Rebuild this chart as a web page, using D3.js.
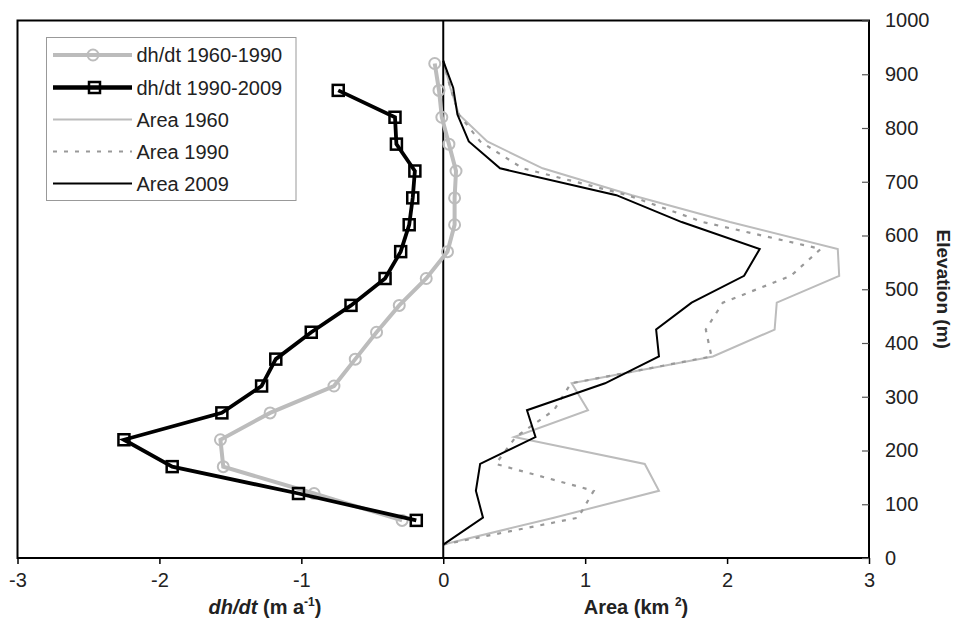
<!DOCTYPE html>
<html><head><meta charset="utf-8">
<script src="https://cdn.jsdelivr.net/npm/d3@7"></script>
<style>body{margin:0;background:#fff;} svg{display:block;font-family:"Liberation Sans",Arial,sans-serif;}</style>
</head><body>
<svg id="c" width="958" height="618"></svg>
<script>
// dh/dt elevations (m) and values (m a-1)
const dhElev = [920, 870, 820, 770, 720, 670, 620, 570, 520, 470, 420, 370, 320, 270, 220, 170, 120, 70];
const dh6090 = [-0.06, -0.03, -0.01, 0.04, 0.09, 0.08, 0.08, 0.03, -0.12, -0.31, -0.47, -0.62, -0.77, -1.22, -1.57, -1.55, -0.91, -0.29];
const dh9009Elev = [870, 820, 770, 720, 670, 620, 570, 520, 470, 420, 370, 320, 270, 220, 170, 120, 70];
const dh9009 = [-0.74, -0.34, -0.33, -0.20, -0.215, -0.24, -0.30, -0.41, -0.65, -0.93, -1.18, -1.28, -1.56, -2.25, -1.91, -1.02, -0.19];
// area elevations (m) and values (km2)
const areaElev = [25, 75, 125, 175, 225, 275, 325, 375, 425, 475, 525, 575, 625, 675, 725, 775, 825, 875, 925];
const area1960 = [0, 0.78, 1.52, 1.42, 0.50, 1.02, 0.905, 1.90, 2.335, 2.35, 2.79, 2.78, 2.02, 1.33, 0.70, 0.31, 0.11, 0.05, 0];
const area1990 = [0, 0.95, 1.06, 0.37, 0.51, 0.78, 0.90, 1.89, 1.85, 1.97, 2.45, 2.66, 1.83, 1.30, 0.56, 0.26, 0.11, 0.05, 0];
const area2009 = [0, 0.28, 0.23, 0.26, 0.65, 0.59, 1.14, 1.52, 1.50, 1.75, 2.12, 2.23, 1.68, 1.22, 0.40, 0.18, 0.10, 0.07, 0];
const xTicks = [-3, -2, -1, 0, 1, 2, 3];
const yTicks = [0, 100, 200, 300, 400, 500, 600, 700, 800, 900, 1000];
const legendLabels = ["dh/dt 1960-1990", "dh/dt 1990-2009", "Area 1960", "Area 1990", "Area 2009"];

const svg = d3.select("#c");
const x = d3.scaleLinear().domain([-3, 3]).range([17.5, 869]);
const y = d3.scaleLinear().domain([0, 1000]).range([558, 20.5]);
const LG = "#bcbcbc", DG = "#999";

const line = d3.line().x(d => x(d[0])).y(d => y(d[1]));
const zip = (vals, el) => vals.map((v, i) => [v, el[i]]);

// area lines
svg.append("path").attr("d", line(zip(area1960, areaElev))).attr("fill", "none").attr("stroke", LG).attr("stroke-width", 2);
svg.append("path").attr("d", line(zip(area1990, areaElev))).attr("fill", "none").attr("stroke", DG).attr("stroke-width", 2.2).attr("stroke-dasharray", "4,7");
svg.append("path").attr("d", line(zip(area2009, areaElev))).attr("fill", "none").attr("stroke", "#000").attr("stroke-width", 2);

// zero line
svg.append("line").attr("x1", x(0)).attr("x2", x(0)).attr("y1", y(0)).attr("y2", y(1000)).attr("stroke", "#000").attr("stroke-width", 2);

// dh/dt 1960-1990
const g1 = zip(dh6090, dhElev);
svg.append("path").attr("d", line(g1)).attr("fill", "none").attr("stroke", LG).attr("stroke-width", 4);
svg.selectAll("circle.g1").data(g1).enter().append("circle").attr("class", "g1")
  .attr("cx", d => x(d[0])).attr("cy", d => y(d[1])).attr("r", 5.5)
  .attr("fill", "none").attr("stroke", LG).attr("stroke-width", 2);

// dh/dt 1990-2009
const g2 = zip(dh9009, dh9009Elev);
svg.append("path").attr("d", line(g2)).attr("fill", "none").attr("stroke", "#000").attr("stroke-width", 3.8);
svg.selectAll("rect.g2").data(g2).enter().append("rect").attr("class", "g2")
  .attr("x", d => x(d[0]) - 5.5).attr("y", d => y(d[1]) - 5.5).attr("width", 11).attr("height", 11)
  .attr("fill", "none").attr("stroke", "#000").attr("stroke-width", 2.5);

// frame
svg.append("rect").attr("x", x(-3)).attr("y", y(1000)).attr("width", x(3) - x(-3)).attr("height", y(0) - y(1000))
  .attr("fill", "none").attr("stroke", "#000").attr("stroke-width", 2);

// bottom axis
const xa = svg.append("g").attr("transform", `translate(0,${y(0)})`)
  .call(d3.axisBottom(x).tickValues(xTicks).tickFormat(d => String(d)).tickSize(6).tickPadding(9));
xa.select(".domain").remove();
xa.selectAll("line").attr("stroke", "#000").attr("stroke-width", 1.5);
xa.selectAll("text").attr("font-size", 20).attr("fill", "#222").attr("font-family", "Liberation Sans, Arial, sans-serif");

// right axis (ticks inward)
const ya = svg.append("g").attr("transform", `translate(${x(3)},0)`)
  .call(d3.axisRight(y).tickValues(yTicks).tickFormat(d => String(d)).tickSizeInner(-7).tickSizeOuter(0).tickPadding(16));
ya.select(".domain").remove();
ya.selectAll("line").attr("stroke", "#555").attr("stroke-width", 1.2);
ya.selectAll("text").attr("font-size", 20).attr("fill", "#222").attr("font-family", "Liberation Sans, Arial, sans-serif");

// axis titles
const t1 = svg.append("text").attr("x", 265).attr("y", 614).attr("text-anchor", "middle")
  .attr("font-size", 20).attr("font-weight", "bold").attr("fill", "#222");
t1.append("tspan").attr("font-style", "italic").text("dh/dt");
t1.append("tspan").text("  (m a");
t1.append("tspan").attr("font-size", 12).attr("dy", -8).text("-1");
t1.append("tspan").attr("dy", 8).text(")");

const t2 = svg.append("text").attr("x", 636).attr("y", 614).attr("text-anchor", "middle")
  .attr("font-size", 20).attr("font-weight", "bold").attr("fill", "#222");
t2.append("tspan").text("Area (km ");
t2.append("tspan").attr("font-size", 12).attr("dy", -8).text("2");
t2.append("tspan").attr("dy", 8).text(")");

svg.append("text").attr("transform", `translate(937,${(y(0) + y(1000)) / 2}) rotate(90)`)
  .attr("text-anchor", "middle").attr("font-size", 19).attr("font-weight", "bold").attr("fill", "#222")
  .text("Elevation (m)");

// legend
const lg = svg.append("g");
lg.append("rect").attr("x", 46.5).attr("y", 37.5).attr("width", 249.5).attr("height", 163).attr("fill", "#fff").attr("stroke", "#999").attr("stroke-width", 1);
const rows = [55, 87.5, 119.5, 151.5, 183.5];
const styles = [
  {c: LG, w: 4, dash: null, m: "circle"},
  {c: "#000", w: 4.5, dash: null, m: "square"},
  {c: LG, w: 2, dash: null, m: null},
  {c: DG, w: 2.2, dash: "4,7", m: null},
  {c: "#000", w: 2, dash: null, m: null}
];
legendLabels.forEach((lab, i) => {
  const s = styles[i], yy = rows[i];
  const l = lg.append("line").attr("x1", 53).attr("x2", 132).attr("y1", yy).attr("y2", yy).attr("stroke", s.c).attr("stroke-width", s.w);
  if (s.dash) l.attr("stroke-dasharray", s.dash);
  if (s.m === "circle") lg.append("circle").attr("cx", 93).attr("cy", yy).attr("r", 5.5).attr("fill", "none").attr("stroke", LG).attr("stroke-width", 2);
  if (s.m === "square") lg.append("rect").attr("x", 89).attr("y", yy - 5.5).attr("width", 11).attr("height", 11).attr("fill", "none").attr("stroke", "#000").attr("stroke-width", 2.5);
  lg.append("text").attr("x", 136.5).attr("y", yy + 7).attr("font-size", 20).attr("fill", "#222").text(lab);
});
</script>
</body></html>
